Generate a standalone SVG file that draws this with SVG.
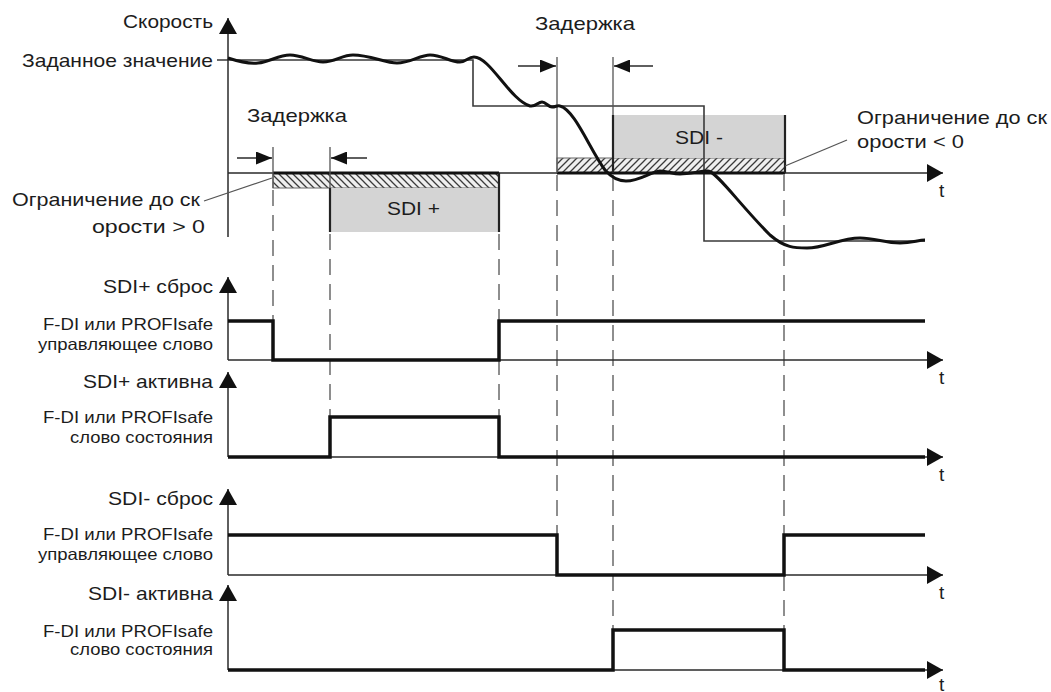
<svg xmlns="http://www.w3.org/2000/svg" width="1051" height="692" viewBox="0 0 1051 692">
<style>
text{font-family:"Liberation Sans",Arial,sans-serif;fill:#1c1c1c}
.big{font-size:19px}
.sm{font-size:16.5px}
.ax{stroke:#2a2a2a;stroke-width:1.5;fill:none}
.sp{stroke:#3a3a3a;stroke-width:1.6;fill:none}
.sig{stroke:#111;stroke-width:3.5;fill:none;stroke-linejoin:miter}
.dash{stroke:#6a6a6a;stroke-width:1.5;stroke-dasharray:16 9;fill:none}
.vl{stroke:#555;stroke-width:1.3;fill:none}
.bd{stroke:#222;stroke-width:2.2;fill:none}
.thick{stroke:#111;stroke-width:3;fill:none}
</style>
<defs>
<marker id="ah" viewBox="0 0 16 18" refX="16" refY="9" markerWidth="16" markerHeight="18" orient="auto" markerUnits="userSpaceOnUse"><path d="M0,0 L16,9 L0,18 Z" fill="#111"/></marker>
<marker id="ahs" viewBox="0 0 16 13" refX="16" refY="6.5" markerWidth="16" markerHeight="13" orient="auto" markerUnits="userSpaceOnUse"><path d="M0,0 L16,6.5 L0,13 Z" fill="#111"/></marker>
<pattern id="hb" patternUnits="userSpaceOnUse" width="7" height="7"><rect width="7" height="7" fill="#efefef"/><path d="M-1,-1 L8,8 M-1,6 L1,8 M6,-1 L8,1" stroke="#3a3a3a" stroke-width="1.3"/></pattern>
<pattern id="hf" patternUnits="userSpaceOnUse" width="7" height="7"><rect width="7" height="7" fill="#efefef"/><path d="M-1,8 L8,-1 M-1,1 L1,-1 M6,8 L8,6" stroke="#3a3a3a" stroke-width="1.3"/></pattern>
</defs>
<rect width="1051" height="692" fill="#fff"/>

<g id="zones">
<rect x="273" y="173" width="226" height="15" fill="url(#hb)" stroke="#666" stroke-width="1"/>
<rect x="330" y="188" width="169" height="44" fill="#d4d4d4"/>
<rect x="557" y="158" width="228" height="15" fill="url(#hf)" stroke="#666" stroke-width="1"/>
<rect x="613" y="115" width="172" height="43" fill="#d4d4d4"/>
</g>

<g id="setpoint">
<path class="sp" d="M217,60 H473 V106 H704 V241 H925"/>
</g>

<g id="connectors">
<path class="ax" d="M228,237 V18" marker-end="url(#ah)"/>
<path class="ax" d="M228,173 H943" marker-end="url(#ah)"/>
<path class="thick" d="M273,173 H499"/>
<path class="thick" d="M557,173 H785"/>
<path class="vl" d="M273,147 V188 M330,147 V188 M557,57 V173 M613,57 V115"/>
<path class="bd" d="M330,188 V232 M499,173 V232 M613,115 V173 M785,115 V173"/>
<path class="dash" d="M273,190 V321 M330,234 V417 M499,234 V417 M557,175 V535 M613,175 V630 M784,175 V630"/>
<path class="ax" d="M237,158 H272" marker-end="url(#ahs)"/>
<path class="ax" d="M367,158 H331" marker-end="url(#ahs)"/>
<path class="ax" d="M518,66 H556" marker-end="url(#ahs)"/>
<path class="ax" d="M653,66 H614" marker-end="url(#ahs)"/>
<path class="vl" d="M204,201 L272,178"/>
<path class="vl" d="M847,140 L785,166"/>
</g>

<g id="speed-curve">
<path d="M228,58 C240,62 250,64 258,63 C270,62 278,55 290,55 C302,55 312,62 323,62 C335,62 342,55 353,55 C370,55 385,63 397,63 C410,63 420,55 430,55 C442,55 450,62 460,62 C466,62 468,57 474,57 C490,57 510,100 530,106 C536,107 538,102 542,102 C546,102 548,107 552,107 C556,107 557,105 560,106 C575,110 590,150 605,170 C612,178 618,181 626,181 C640,181 650,172 660,171 C668,171 672,174 680,174 C690,174 700,171 708,171 C716,171 740,205 770,235 C785,248 795,248 807,248 C825,248 840,238 860,238 C875,238 885,243 900,243 C912,243 918,240 925,240" stroke="#111" stroke-width="3" fill="none"/>
</g>

<g id="signal-sdi-plus-reset">
<path class="ax" d="M228,360 V277" marker-end="url(#ah)"/>
<path class="ax" d="M228,360 H943" marker-end="url(#ah)"/>
<path class="sig" d="M228,321 H273 V360 H499 V321 H925"/>
</g>
<g id="signal-sdi-plus-active">
<path class="ax" d="M228,457 V372" marker-end="url(#ah)"/>
<path class="ax" d="M228,457 H943" marker-end="url(#ah)"/>
<path class="sig" d="M228,457 H330 V417 H499 V457 H925"/>
</g>
<g id="signal-sdi-minus-reset">
<path class="ax" d="M228,575 V489" marker-end="url(#ah)"/>
<path class="ax" d="M228,575 H943" marker-end="url(#ah)"/>
<path class="sig" d="M228,535 H557 V575 H784 V535 H925"/>
</g>
<g id="signal-sdi-minus-active">
<path class="ax" d="M228,670 V585" marker-end="url(#ah)"/>
<path class="ax" d="M228,670 H943" marker-end="url(#ah)"/>
<path class="sig" d="M228,670 H613 V630 H784 V670 H925"/>
</g>

<g id="labels">
<text class="big" x="123" y="28" textLength="90" lengthAdjust="spacingAndGlyphs">Скорость</text>
<text class="big" x="22" y="67" textLength="191" lengthAdjust="spacingAndGlyphs">Заданное значение</text>
<text class="big" x="247" y="122" textLength="100" lengthAdjust="spacingAndGlyphs">Задержка</text>
<text class="big" x="535" y="30" textLength="100" lengthAdjust="spacingAndGlyphs">Задержка</text>
<text class="big" x="12" y="206" textLength="188" lengthAdjust="spacingAndGlyphs">Ограничение до ск</text>
<text class="big" x="92" y="233" textLength="113" lengthAdjust="spacingAndGlyphs">орости &gt; 0</text>
<text class="big" x="857" y="124" textLength="190" lengthAdjust="spacingAndGlyphs">Ограничение до ск</text>
<text class="big" x="857" y="148" textLength="107" lengthAdjust="spacingAndGlyphs">орости &lt; 0</text>
<text class="big" x="387" y="215" textLength="53" lengthAdjust="spacingAndGlyphs">SDI +</text>
<text class="big" x="675" y="144" textLength="48" lengthAdjust="spacingAndGlyphs">SDI -</text>
<text class="big" x="939" y="197">t</text>
<text class="big" x="939" y="384">t</text>
<text class="big" x="939" y="481">t</text>
<text class="big" x="939" y="599">t</text>
<text class="big" x="939" y="691">t</text>
<text class="big" x="103" y="293" textLength="110" lengthAdjust="spacingAndGlyphs">SDI+ сброс</text>
<text class="sm" x="43" y="330" textLength="170" lengthAdjust="spacingAndGlyphs">F-DI или PROFIsafe</text>
<text class="sm" x="38" y="350" textLength="175" lengthAdjust="spacingAndGlyphs">управляющее слово</text>
<text class="big" x="83" y="388" textLength="130" lengthAdjust="spacingAndGlyphs">SDI+ активна</text>
<text class="sm" x="43" y="423" textLength="170" lengthAdjust="spacingAndGlyphs">F-DI или PROFIsafe</text>
<text class="sm" x="70" y="443" textLength="143" lengthAdjust="spacingAndGlyphs">слово состояния</text>
<text class="big" x="108" y="505" textLength="105" lengthAdjust="spacingAndGlyphs">SDI- сброс</text>
<text class="sm" x="43" y="540" textLength="170" lengthAdjust="spacingAndGlyphs">F-DI или PROFIsafe</text>
<text class="sm" x="38" y="560" textLength="175" lengthAdjust="spacingAndGlyphs">управляющее слово</text>
<text class="big" x="88" y="600" textLength="125" lengthAdjust="spacingAndGlyphs">SDI- активна</text>
<text class="sm" x="43" y="637" textLength="170" lengthAdjust="spacingAndGlyphs">F-DI или PROFIsafe</text>
<text class="sm" x="70" y="655" textLength="143" lengthAdjust="spacingAndGlyphs">слово состояния</text>
</g>
</svg>
